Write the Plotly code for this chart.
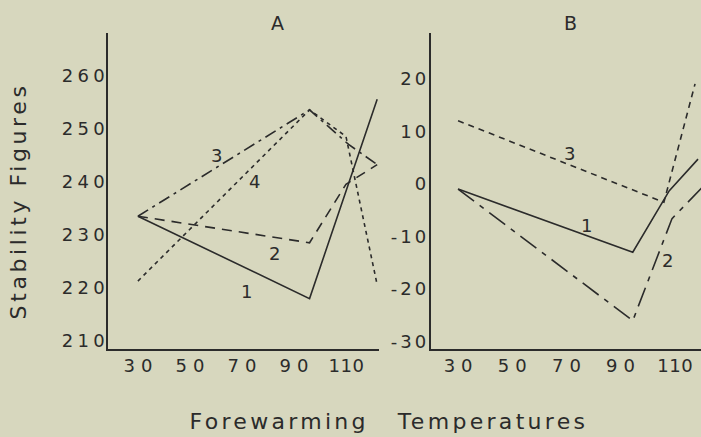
import plotly.graph_objects as go

# ---------------- data ----------------
# Panel A
a1_x = [30, 96, 122]
a1_y = [233.5, 218, 255.5]
a2_x = [30, 96, 110, 122]
a2_y = [233.5, 228.5, 239.5, 243.2]
a3_x = [30, 96, 111, 122]
a3_y = [233.5, 253.5, 247, 243.2]
a4_x = [30, 96, 110, 122]
a4_y = [221.3, 253.5, 248.5, 220.6]

# Panel B
b1_x = [30, 94.5, 108, 118.6]
b1_y = [-1, -13, -1.3, 4.7]
b2_x = [30, 94.5, 109, 120.5]
b2_y = [-1, -26, -6.6, -0.5]
b3_x = [30, 106, 117.5]
b3_y = [12, -3.5, 19]

x_ticks = [30, 50, 70, 90, 110]
a_y_ticks = [210, 220, 230, 240, 250, 260]
b_y_ticks = [-30, -20, -10, 0, 10, 20]
b_y_tick_text = ["-30", "-20", "-10", "0", "10", "20"]

# line labels: (text, x, y)
a_labels = [("3", 60.3, 244.9), ("4", 74.8, 240.0), ("2", 82.5, 226.5), ("1", 71.8, 219.4)]
b_labels = [("3", 71.3, 5.7), ("1", 77.6, -7.9), ("2", 107.5, -14.5)]

# ---------------- styling ----------------
BG = "#d7d7be"
INK = "#2b2b2b"
FONT = "DejaVu Sans"

fig = go.Figure()

def add_line(x, y, dash, xa, ya, width=1.6):
    fig.add_trace(go.Scatter(x=x, y=y, mode="lines", xaxis=xa, yaxis=ya,
                             line=dict(color=INK, width=width, dash=dash),
                             showlegend=False, hoverinfo="skip"))

add_line(a1_x, a1_y, "solid", "x", "y")
add_line(a2_x, a2_y, "10px,7px", "x", "y")
add_line(a3_x, a3_y, "12px,5px,3px,5px", "x", "y")
add_line(a4_x, a4_y, "4px,4px", "x", "y")

add_line(b1_x, b1_y, "solid", "x2", "y2")
add_line(b2_x, b2_y, "20px,7px,5px,7px", "x2", "y2")
add_line(b3_x, b3_y, "6px,5px", "x2", "y2")

axis_common = dict(showgrid=False, zeroline=False, showline=True, linecolor=INK,
                   linewidth=1.6, ticks="", tickfont=dict(family=FONT, size=18, color=INK))

fig.update_layout(
    width=701, height=437,
    margin=dict(l=0, r=0, t=0, b=0),
    paper_bgcolor=BG, plot_bgcolor=BG,
    xaxis=dict(domain=[108/701, 379/701], range=[18.5, 122.7], tickvals=x_ticks,
               anchor="y", **axis_common),
    yaxis=dict(domain=[1-351/437, 1-33/437], range=[208.6, 268.0], tickvals=a_y_ticks,
               anchor="x", **axis_common),
    xaxis2=dict(domain=[431/701, 1.0], range=[20.0, 119.7], tickvals=x_ticks,
                anchor="y2", **axis_common),
    yaxis2=dict(domain=[1-351/437, 1-33/437], range=[-31.3, 28.7], tickvals=b_y_ticks,
                ticktext=b_y_tick_text, anchor="x2", **axis_common),
)

def note(text, x, y, xref, yref, size, angle=0):
    return dict(text=text, x=x, y=y, xref=xref, yref=yref, showarrow=False,
                xanchor="center", yanchor="middle", textangle=angle,
                font=dict(family=FONT, size=size, color=INK))

ann = []
for t, x, y in a_labels:
    ann.append(note(t, x, y, "x", "y", 18))
for t, x, y in b_labels:
    ann.append(note(t, x, y, "x2", "y2", 18))

ann.append(note("A", 277/701, 1-23/437, "paper", "paper", 19))
ann.append(note("B", 570/701, 1-23/437, "paper", "paper", 19))
ann.append(note("Stability Figures", 19/701, 1-204/437, "paper", "paper", 22, -90))
ann.append(note("Forewarming", 277/701, 1-424/437, "paper", "paper", 22))
ann.append(note("Temperatures", 491/701, 1-424/437, "paper", "paper", 22))
fig.update_layout(annotations=ann)

# hand-lettered look: widen the letter spacing of the texts
post = """
var gd = document.getElementById('{plot_id}');
function spread(sel, ls, dx, filt){
  gd.querySelectorAll(sel).forEach(function(t){
    if (filt && filt.indexOf(t.textContent) < 0) return;
    t.style.letterSpacing = ls + 'px';
    t.setAttribute('dx', dx);
  });
}
spread('.xtick text, .x2tick text', 6.0, 3.0, ['30', '50', '70', '90']);
spread('.xtick text, .x2tick text', 0.5, 0.5, ['110']);
spread('.ytick text', 4.3, 6.3);
spread('.y2tick text', 3.0, 3.5);
spread('.annotation-text', 3.6, 1.8, ['Stability Figures']);
spread('.annotation-text', 3.3, 1.65, ['Forewarming', 'Temperatures']);
"""

fig.write_html("out.html", post_script=post)
